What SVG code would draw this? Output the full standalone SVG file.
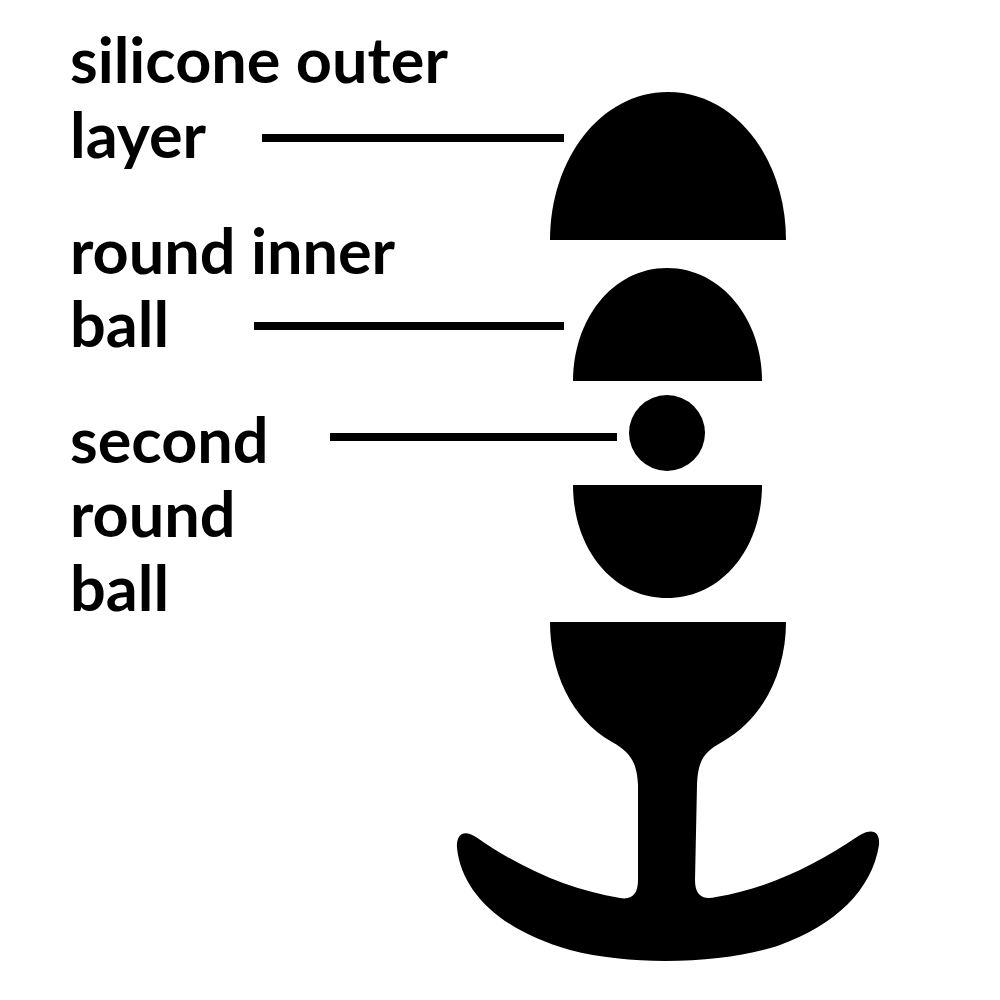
<svg xmlns="http://www.w3.org/2000/svg" width="1000" height="1000" viewBox="0 0 1000 1000">
<style>
text{font-family:"Lato","Noto Sans",sans-serif;font-size:63px;font-weight:700;fill:#000}
.s{fill:#000}
.c line{stroke:#000;stroke-width:8;fill:none}
</style>
<rect width="1000" height="1000" fill="#fff"/>
<g id="labels">
<text x="70" y="83">silicone outer</text>
<text x="70" y="158">layer</text>
<text x="70" y="274">round inner</text>
<text x="70" y="347">ball</text>
<text x="70" y="463">second</text>
<text x="70" y="537">round</text>
<text x="70" y="611">ball</text>
</g>
<g class="c" id="connectors">
<line x1="262" y1="138" x2="564" y2="138"/>
<line x1="254" y1="326" x2="564" y2="326"/>
<line x1="330" y1="437" x2="617" y2="437"/>
</g>
<g id="outer-top"><path class="s" d="M550 240C550 160 600 92 668 92C736 92 786 160 786 240Z"/></g>
<g id="inner-top"><path class="s" d="M573 381C573 320 612 268 667 268C722 268 762 320 762 381Z"/></g>
<g id="second-ball"><circle class="s" cx="667" cy="433" r="38"/></g>
<g id="inner-bottom"><path class="s" d="M573 485H762C762 548 722 598 667 598C612 598 573 548 573 485Z"/></g>
<g id="outer-bottom"><path class="s" d="M550 622H786C786 670 765 718 722 742C704 752 698 760 697 785L695 880C695 896 703 900 716 897C770 888 815 865 860 835C873 828 880 832 879 845C872 890 835 925 780 945C730 962 640 968 570 950C505 932 462 895 457 848C456 834 464 829 476 837C520 868 570 890 620 898C632 900 638 894 638 880L638 785C637 762 630 752 612 742C570 718 550 670 550 622Z"/></g>
</svg>
